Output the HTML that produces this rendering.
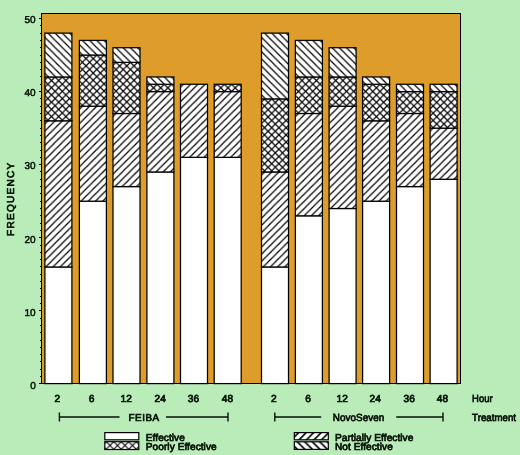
<!DOCTYPE html>
<html><head><meta charset="utf-8"><title>Frequency by Hour and Treatment</title>
<style>
html,body{margin:0;padding:0;background:#b9ecb9;}
body{width:520px;height:455px;overflow:hidden;}
svg{display:block;will-change:transform;}
text{text-rendering:geometricPrecision;font-family:"Liberation Sans",sans-serif;font-size:10.1px;fill:#061206;stroke:#061206;stroke-width:0.7px;letter-spacing:0.06px;}
</style></head><body>
<svg width="520" height="455" viewBox="0 0 520 455">
<defs>
<pattern id="l_xp" patternUnits="userSpaceOnUse" width="7.5" height="7.5" x="0.50" y="0"><path d="M-1,8.5 L8.5,-1 M-1,1 L1,-1 M6.5,8.5 L8.5,6.5" stroke="#000" stroke-width="1.15" fill="none"/></pattern>
<pattern id="l_xn" patternUnits="userSpaceOnUse" width="7.5" height="7.5" x="2.00" y="0"><path d="M-1,-1 L8.5,8.5 M6.5,-1 L8.5,1 M-1,6.5 L1,8.5" stroke="#000" stroke-width="1.15" fill="none"/></pattern>
<pattern id="l_p" patternUnits="userSpaceOnUse" width="7.5" height="7.5" x="3.80" y="0"><path d="M-1,8.5 L8.5,-1 M-1,1 L1,-1 M6.5,8.5 L8.5,6.5" stroke="#000" stroke-width="1.6" fill="none"/></pattern>
<pattern id="l_n" patternUnits="userSpaceOnUse" width="7.5" height="7.5" x="5.50" y="0"><path d="M-1,-1 L8.5,8.5 M6.5,-1 L8.5,1 M-1,6.5 L1,8.5" stroke="#000" stroke-width="1.6" fill="none"/></pattern>
<pattern id="p0" patternUnits="userSpaceOnUse" width="7.2" height="7.2" x="3.11" y="0"><path d="M-1,8.2 L8.2,-1 M-1,1 L1,-1 M6.2,8.2 L8.2,6.2" stroke="#000" stroke-width="1.25" fill="none"/></pattern>
<pattern id="p1" patternUnits="userSpaceOnUse" width="7.2" height="7.2" x="2.46" y="0"><path d="M-1,8.2 L8.2,-1 M-1,1 L1,-1 M6.2,8.2 L8.2,6.2" stroke="#000" stroke-width="1.25" fill="none"/></pattern>
<pattern id="p2" patternUnits="userSpaceOnUse" width="7.2" height="7.2" x="6.94" y="0"><path d="M-1,-1 L8.2,8.2 M6.2,-1 L8.2,1 M-1,6.2 L1,8.2" stroke="#000" stroke-width="1.25" fill="none"/></pattern>
<pattern id="p3" patternUnits="userSpaceOnUse" width="7.2" height="7.2" x="0.38" y="0"><path d="M-1,-1 L8.2,8.2 M6.2,-1 L8.2,1 M-1,6.2 L1,8.2" stroke="#000" stroke-width="1.25" fill="none"/></pattern>
<pattern id="p4" patternUnits="userSpaceOnUse" width="7.2" height="7.2" x="1.40" y="0"><path d="M-1,8.2 L8.2,-1 M-1,1 L1,-1 M6.2,8.2 L8.2,6.2" stroke="#000" stroke-width="1.25" fill="none"/></pattern>
<pattern id="p5" patternUnits="userSpaceOnUse" width="7.2" height="7.2" x="0.64" y="0"><path d="M-1,8.2 L8.2,-1 M-1,1 L1,-1 M6.2,8.2 L8.2,6.2" stroke="#000" stroke-width="1.25" fill="none"/></pattern>
<pattern id="p6" patternUnits="userSpaceOnUse" width="7.2" height="7.2" x="5.76" y="0"><path d="M-1,-1 L8.2,8.2 M6.2,-1 L8.2,1 M-1,6.2 L1,8.2" stroke="#000" stroke-width="1.25" fill="none"/></pattern>
<pattern id="p7" patternUnits="userSpaceOnUse" width="7.2" height="7.2" x="5.98" y="0"><path d="M-1,-1 L8.2,8.2 M6.2,-1 L8.2,1 M-1,6.2 L1,8.2" stroke="#000" stroke-width="1.25" fill="none"/></pattern>
<pattern id="p8" patternUnits="userSpaceOnUse" width="7.2" height="7.2" x="6.30" y="0"><path d="M-1,8.2 L8.2,-1 M-1,1 L1,-1 M6.2,8.2 L8.2,6.2" stroke="#000" stroke-width="1.25" fill="none"/></pattern>
<pattern id="p9" patternUnits="userSpaceOnUse" width="7.2" height="7.2" x="5.55" y="0"><path d="M-1,8.2 L8.2,-1 M-1,1 L1,-1 M6.2,8.2 L8.2,6.2" stroke="#000" stroke-width="1.25" fill="none"/></pattern>
<pattern id="p10" patternUnits="userSpaceOnUse" width="7.2" height="7.2" x="3.25" y="0"><path d="M-1,-1 L8.2,8.2 M6.2,-1 L8.2,1 M-1,6.2 L1,8.2" stroke="#000" stroke-width="1.25" fill="none"/></pattern>
<pattern id="p11" patternUnits="userSpaceOnUse" width="7.2" height="7.2" x="3.47" y="0"><path d="M-1,-1 L8.2,8.2 M6.2,-1 L8.2,1 M-1,6.2 L1,8.2" stroke="#000" stroke-width="1.25" fill="none"/></pattern>
<pattern id="p12" patternUnits="userSpaceOnUse" width="7.2" height="7.2" x="3.88" y="0"><path d="M-1,8.2 L8.2,-1 M-1,1 L1,-1 M6.2,8.2 L8.2,6.2" stroke="#000" stroke-width="1.25" fill="none"/></pattern>
<pattern id="p13" patternUnits="userSpaceOnUse" width="7.2" height="7.2" x="3.77" y="0"><path d="M-1,8.2 L8.2,-1 M-1,1 L1,-1 M6.2,8.2 L8.2,6.2" stroke="#000" stroke-width="1.25" fill="none"/></pattern>
<pattern id="p14" patternUnits="userSpaceOnUse" width="7.2" height="7.2" x="0.83" y="0"><path d="M-1,-1 L8.2,8.2 M6.2,-1 L8.2,1 M-1,6.2 L1,8.2" stroke="#000" stroke-width="1.25" fill="none"/></pattern>
<pattern id="p15" patternUnits="userSpaceOnUse" width="7.2" height="7.2" x="0.94" y="0"><path d="M-1,-1 L8.2,8.2 M6.2,-1 L8.2,1 M-1,6.2 L1,8.2" stroke="#000" stroke-width="1.25" fill="none"/></pattern>
<pattern id="p16" patternUnits="userSpaceOnUse" width="7.2" height="7.2" x="1.37" y="0"><path d="M-1,8.2 L8.2,-1 M-1,1 L1,-1 M6.2,8.2 L8.2,6.2" stroke="#000" stroke-width="1.25" fill="none"/></pattern>
<pattern id="p17" patternUnits="userSpaceOnUse" width="7.2" height="7.2" x="6.38" y="0"><path d="M-1,8.2 L8.2,-1 M-1,1 L1,-1 M6.2,8.2 L8.2,6.2" stroke="#000" stroke-width="1.25" fill="none"/></pattern>
<pattern id="p18" patternUnits="userSpaceOnUse" width="7.2" height="7.2" x="6.27" y="0"><path d="M-1,8.2 L8.2,-1 M-1,1 L1,-1 M6.2,8.2 L8.2,6.2" stroke="#000" stroke-width="1.25" fill="none"/></pattern>
<pattern id="p19" patternUnits="userSpaceOnUse" width="7.2" height="7.2" x="3.33" y="0"><path d="M-1,-1 L8.2,8.2 M6.2,-1 L8.2,1 M-1,6.2 L1,8.2" stroke="#000" stroke-width="1.25" fill="none"/></pattern>
<pattern id="p20" patternUnits="userSpaceOnUse" width="7.2" height="7.2" x="4.47" y="0"><path d="M-1,8.2 L8.2,-1 M-1,1 L1,-1 M6.2,8.2 L8.2,6.2" stroke="#000" stroke-width="1.25" fill="none"/></pattern>
<pattern id="p21" patternUnits="userSpaceOnUse" width="7.2" height="7.2" x="3.39" y="0"><path d="M-1,8.2 L8.2,-1 M-1,1 L1,-1 M6.2,8.2 L8.2,6.2" stroke="#000" stroke-width="1.25" fill="none"/></pattern>
<pattern id="p22" patternUnits="userSpaceOnUse" width="7.2" height="7.2" x="0.01" y="0"><path d="M-1,-1 L8.2,8.2 M6.2,-1 L8.2,1 M-1,6.2 L1,8.2" stroke="#000" stroke-width="1.25" fill="none"/></pattern>
<pattern id="p23" patternUnits="userSpaceOnUse" width="7.2" height="7.2" x="0.98" y="0"><path d="M-1,-1 L8.2,8.2 M6.2,-1 L8.2,1 M-1,6.2 L1,8.2" stroke="#000" stroke-width="1.25" fill="none"/></pattern>
<pattern id="p24" patternUnits="userSpaceOnUse" width="7.2" height="7.2" x="1.50" y="0"><path d="M-1,8.2 L8.2,-1 M-1,1 L1,-1 M6.2,8.2 L8.2,6.2" stroke="#000" stroke-width="1.25" fill="none"/></pattern>
<pattern id="p25" patternUnits="userSpaceOnUse" width="7.2" height="7.2" x="0.96" y="0"><path d="M-1,8.2 L8.2,-1 M-1,1 L1,-1 M6.2,8.2 L8.2,6.2" stroke="#000" stroke-width="1.25" fill="none"/></pattern>
<pattern id="p26" patternUnits="userSpaceOnUse" width="7.2" height="7.2" x="5.44" y="0"><path d="M-1,-1 L8.2,8.2 M6.2,-1 L8.2,1 M-1,6.2 L1,8.2" stroke="#000" stroke-width="1.25" fill="none"/></pattern>
<pattern id="p27" patternUnits="userSpaceOnUse" width="7.2" height="7.2" x="5.98" y="0"><path d="M-1,-1 L8.2,8.2 M6.2,-1 L8.2,1 M-1,6.2 L1,8.2" stroke="#000" stroke-width="1.25" fill="none"/></pattern>
<pattern id="p28" patternUnits="userSpaceOnUse" width="7.2" height="7.2" x="6.30" y="0"><path d="M-1,8.2 L8.2,-1 M-1,1 L1,-1 M6.2,8.2 L8.2,6.2" stroke="#000" stroke-width="1.25" fill="none"/></pattern>
<pattern id="p29" patternUnits="userSpaceOnUse" width="7.2" height="7.2" x="5.86" y="0"><path d="M-1,8.2 L8.2,-1 M-1,1 L1,-1 M6.2,8.2 L8.2,6.2" stroke="#000" stroke-width="1.25" fill="none"/></pattern>
<pattern id="p30" patternUnits="userSpaceOnUse" width="7.2" height="7.2" x="3.14" y="0"><path d="M-1,-1 L8.2,8.2 M6.2,-1 L8.2,1 M-1,6.2 L1,8.2" stroke="#000" stroke-width="1.25" fill="none"/></pattern>
<pattern id="p31" patternUnits="userSpaceOnUse" width="7.2" height="7.2" x="3.57" y="0"><path d="M-1,-1 L8.2,8.2 M6.2,-1 L8.2,1 M-1,6.2 L1,8.2" stroke="#000" stroke-width="1.25" fill="none"/></pattern>
<pattern id="p32" patternUnits="userSpaceOnUse" width="7.2" height="7.2" x="4.01" y="0"><path d="M-1,8.2 L8.2,-1 M-1,1 L1,-1 M6.2,8.2 L8.2,6.2" stroke="#000" stroke-width="1.25" fill="none"/></pattern>
<pattern id="p33" patternUnits="userSpaceOnUse" width="7.2" height="7.2" x="3.47" y="0"><path d="M-1,8.2 L8.2,-1 M-1,1 L1,-1 M6.2,8.2 L8.2,6.2" stroke="#000" stroke-width="1.25" fill="none"/></pattern>
<pattern id="p34" patternUnits="userSpaceOnUse" width="7.2" height="7.2" x="0.53" y="0"><path d="M-1,-1 L8.2,8.2 M6.2,-1 L8.2,1 M-1,6.2 L1,8.2" stroke="#000" stroke-width="1.25" fill="none"/></pattern>
<pattern id="p35" patternUnits="userSpaceOnUse" width="7.2" height="7.2" x="0.64" y="0"><path d="M-1,-1 L8.2,8.2 M6.2,-1 L8.2,1 M-1,6.2 L1,8.2" stroke="#000" stroke-width="1.25" fill="none"/></pattern>
<pattern id="p36" patternUnits="userSpaceOnUse" width="7.2" height="7.2" x="1.80" y="0"><path d="M-1,8.2 L8.2,-1 M-1,1 L1,-1 M6.2,8.2 L8.2,6.2" stroke="#000" stroke-width="1.25" fill="none"/></pattern>
<pattern id="p37" patternUnits="userSpaceOnUse" width="7.2" height="7.2" x="1.48" y="0"><path d="M-1,8.2 L8.2,-1 M-1,1 L1,-1 M6.2,8.2 L8.2,6.2" stroke="#000" stroke-width="1.25" fill="none"/></pattern>
<pattern id="p38" patternUnits="userSpaceOnUse" width="7.2" height="7.2" x="5.52" y="0"><path d="M-1,-1 L8.2,8.2 M6.2,-1 L8.2,1 M-1,6.2 L1,8.2" stroke="#000" stroke-width="1.25" fill="none"/></pattern>
<pattern id="p39" patternUnits="userSpaceOnUse" width="7.2" height="7.2" x="5.63" y="0"><path d="M-1,-1 L8.2,8.2 M6.2,-1 L8.2,1 M-1,6.2 L1,8.2" stroke="#000" stroke-width="1.25" fill="none"/></pattern>
<pattern id="p40" patternUnits="userSpaceOnUse" width="7.2" height="7.2" x="6.82" y="0"><path d="M-1,8.2 L8.2,-1 M-1,1 L1,-1 M6.2,8.2 L8.2,6.2" stroke="#000" stroke-width="1.25" fill="none"/></pattern>
<pattern id="p41" patternUnits="userSpaceOnUse" width="7.2" height="7.2" x="6.28" y="0"><path d="M-1,8.2 L8.2,-1 M-1,1 L1,-1 M6.2,8.2 L8.2,6.2" stroke="#000" stroke-width="1.25" fill="none"/></pattern>
<pattern id="p42" patternUnits="userSpaceOnUse" width="7.2" height="7.2" x="3.12" y="0"><path d="M-1,-1 L8.2,8.2 M6.2,-1 L8.2,1 M-1,6.2 L1,8.2" stroke="#000" stroke-width="1.25" fill="none"/></pattern>
<pattern id="p43" patternUnits="userSpaceOnUse" width="7.2" height="7.2" x="3.23" y="0"><path d="M-1,-1 L8.2,8.2 M6.2,-1 L8.2,1 M-1,6.2 L1,8.2" stroke="#000" stroke-width="1.25" fill="none"/></pattern>
</defs>
<rect x="0" y="0" width="520" height="455" fill="#b9ecb9"/>
<rect x="41.5" y="13.6" width="419.3" height="370.0" fill="#de9c2a" stroke="#000" stroke-width="1" shape-rendering="crispEdges"/>

<line x1="39" x2="41" y1="383.5" y2="383.5" stroke="#000" stroke-width="1" shape-rendering="crispEdges"/>
<text x="35.7" y="389.20" text-anchor="end" style="font-size:10px;letter-spacing:0;stroke-width:0.5px">0</text>
<line x1="40" x2="41" y1="376.5" y2="376.5" stroke="#000" stroke-width="1" shape-rendering="crispEdges"/>
<line x1="40" x2="41" y1="369.5" y2="369.5" stroke="#000" stroke-width="1" shape-rendering="crispEdges"/>
<line x1="40" x2="41" y1="361.5" y2="361.5" stroke="#000" stroke-width="1" shape-rendering="crispEdges"/>
<line x1="40" x2="41" y1="354.5" y2="354.5" stroke="#000" stroke-width="1" shape-rendering="crispEdges"/>
<line x1="40" x2="41" y1="347.5" y2="347.5" stroke="#000" stroke-width="1" shape-rendering="crispEdges"/>
<line x1="40" x2="41" y1="340.5" y2="340.5" stroke="#000" stroke-width="1" shape-rendering="crispEdges"/>
<line x1="40" x2="41" y1="332.5" y2="332.5" stroke="#000" stroke-width="1" shape-rendering="crispEdges"/>
<line x1="40" x2="41" y1="325.5" y2="325.5" stroke="#000" stroke-width="1" shape-rendering="crispEdges"/>
<line x1="40" x2="41" y1="318.5" y2="318.5" stroke="#000" stroke-width="1" shape-rendering="crispEdges"/>
<line x1="39" x2="41" y1="310.5" y2="310.5" stroke="#000" stroke-width="1" shape-rendering="crispEdges"/>
<text x="35.7" y="315.86" text-anchor="end" style="font-size:10px;letter-spacing:0;stroke-width:0.5px">10</text>
<line x1="40" x2="41" y1="303.5" y2="303.5" stroke="#000" stroke-width="1" shape-rendering="crispEdges"/>
<line x1="40" x2="41" y1="296.5" y2="296.5" stroke="#000" stroke-width="1" shape-rendering="crispEdges"/>
<line x1="40" x2="41" y1="288.5" y2="288.5" stroke="#000" stroke-width="1" shape-rendering="crispEdges"/>
<line x1="40" x2="41" y1="281.5" y2="281.5" stroke="#000" stroke-width="1" shape-rendering="crispEdges"/>
<line x1="40" x2="41" y1="274.5" y2="274.5" stroke="#000" stroke-width="1" shape-rendering="crispEdges"/>
<line x1="40" x2="41" y1="266.5" y2="266.5" stroke="#000" stroke-width="1" shape-rendering="crispEdges"/>
<line x1="40" x2="41" y1="259.5" y2="259.5" stroke="#000" stroke-width="1" shape-rendering="crispEdges"/>
<line x1="40" x2="41" y1="252.5" y2="252.5" stroke="#000" stroke-width="1" shape-rendering="crispEdges"/>
<line x1="40" x2="41" y1="245.5" y2="245.5" stroke="#000" stroke-width="1" shape-rendering="crispEdges"/>
<line x1="39" x2="41" y1="237.5" y2="237.5" stroke="#000" stroke-width="1" shape-rendering="crispEdges"/>
<text x="35.7" y="242.52" text-anchor="end" style="font-size:10px;letter-spacing:0;stroke-width:0.5px">20</text>
<line x1="40" x2="41" y1="230.5" y2="230.5" stroke="#000" stroke-width="1" shape-rendering="crispEdges"/>
<line x1="40" x2="41" y1="223.5" y2="223.5" stroke="#000" stroke-width="1" shape-rendering="crispEdges"/>
<line x1="40" x2="41" y1="215.5" y2="215.5" stroke="#000" stroke-width="1" shape-rendering="crispEdges"/>
<line x1="40" x2="41" y1="208.5" y2="208.5" stroke="#000" stroke-width="1" shape-rendering="crispEdges"/>
<line x1="40" x2="41" y1="201.5" y2="201.5" stroke="#000" stroke-width="1" shape-rendering="crispEdges"/>
<line x1="40" x2="41" y1="193.5" y2="193.5" stroke="#000" stroke-width="1" shape-rendering="crispEdges"/>
<line x1="40" x2="41" y1="186.5" y2="186.5" stroke="#000" stroke-width="1" shape-rendering="crispEdges"/>
<line x1="40" x2="41" y1="179.5" y2="179.5" stroke="#000" stroke-width="1" shape-rendering="crispEdges"/>
<line x1="40" x2="41" y1="171.5" y2="171.5" stroke="#000" stroke-width="1" shape-rendering="crispEdges"/>
<line x1="39" x2="41" y1="164.5" y2="164.5" stroke="#000" stroke-width="1" shape-rendering="crispEdges"/>
<text x="35.7" y="169.18" text-anchor="end" style="font-size:10px;letter-spacing:0;stroke-width:0.5px">30</text>
<line x1="40" x2="41" y1="157.5" y2="157.5" stroke="#000" stroke-width="1" shape-rendering="crispEdges"/>
<line x1="40" x2="41" y1="150.5" y2="150.5" stroke="#000" stroke-width="1" shape-rendering="crispEdges"/>
<line x1="40" x2="41" y1="142.5" y2="142.5" stroke="#000" stroke-width="1" shape-rendering="crispEdges"/>
<line x1="40" x2="41" y1="135.5" y2="135.5" stroke="#000" stroke-width="1" shape-rendering="crispEdges"/>
<line x1="40" x2="41" y1="128.5" y2="128.5" stroke="#000" stroke-width="1" shape-rendering="crispEdges"/>
<line x1="40" x2="41" y1="120.5" y2="120.5" stroke="#000" stroke-width="1" shape-rendering="crispEdges"/>
<line x1="40" x2="41" y1="113.5" y2="113.5" stroke="#000" stroke-width="1" shape-rendering="crispEdges"/>
<line x1="40" x2="41" y1="106.5" y2="106.5" stroke="#000" stroke-width="1" shape-rendering="crispEdges"/>
<line x1="40" x2="41" y1="98.5" y2="98.5" stroke="#000" stroke-width="1" shape-rendering="crispEdges"/>
<line x1="39" x2="41" y1="91.5" y2="91.5" stroke="#000" stroke-width="1" shape-rendering="crispEdges"/>
<text x="35.7" y="95.84" text-anchor="end" style="font-size:10px;letter-spacing:0;stroke-width:0.5px">40</text>
<line x1="40" x2="41" y1="84.5" y2="84.5" stroke="#000" stroke-width="1" shape-rendering="crispEdges"/>
<line x1="40" x2="41" y1="76.5" y2="76.5" stroke="#000" stroke-width="1" shape-rendering="crispEdges"/>
<line x1="40" x2="41" y1="69.5" y2="69.5" stroke="#000" stroke-width="1" shape-rendering="crispEdges"/>
<line x1="40" x2="41" y1="62.5" y2="62.5" stroke="#000" stroke-width="1" shape-rendering="crispEdges"/>
<line x1="40" x2="41" y1="55.5" y2="55.5" stroke="#000" stroke-width="1" shape-rendering="crispEdges"/>
<line x1="40" x2="41" y1="47.5" y2="47.5" stroke="#000" stroke-width="1" shape-rendering="crispEdges"/>
<line x1="40" x2="41" y1="40.5" y2="40.5" stroke="#000" stroke-width="1" shape-rendering="crispEdges"/>
<line x1="40" x2="41" y1="33.5" y2="33.5" stroke="#000" stroke-width="1" shape-rendering="crispEdges"/>
<line x1="40" x2="41" y1="25.5" y2="25.5" stroke="#000" stroke-width="1" shape-rendering="crispEdges"/>
<line x1="39" x2="41" y1="18.5" y2="18.5" stroke="#000" stroke-width="1" shape-rendering="crispEdges"/>
<text x="35.7" y="22.50" text-anchor="end" style="font-size:10px;letter-spacing:0;stroke-width:0.5px">50</text>
<text transform="translate(13.7,235.9) rotate(-90)" style="font-size:10px;letter-spacing:0" textLength="73.2" lengthAdjust="spacing">FREQUENCY</text>
<rect x="44.90" y="266.97" width="27" height="116.63" fill="#fff"/>
<rect x="44.90" y="266.97" width="27" height="116.63" fill="none" stroke="#000" stroke-width="1.25"/>
<rect x="44.90" y="120.81" width="27" height="146.16" fill="#fff"/>
<rect x="44.90" y="120.81" width="27" height="146.16" fill="url(#p0)"/>
<rect x="44.90" y="120.81" width="27" height="146.16" fill="none" stroke="#000" stroke-width="1.25"/>
<rect x="44.90" y="76.96" width="27" height="43.85" fill="#fff"/>
<rect x="44.90" y="76.96" width="27" height="43.85" fill="url(#p1)"/>
<rect x="44.90" y="76.96" width="27" height="43.85" fill="url(#p2)"/>
<rect x="44.90" y="76.96" width="27" height="43.85" fill="none" stroke="#000" stroke-width="1.25"/>
<rect x="44.90" y="33.12" width="27" height="43.85" fill="#fff"/>
<rect x="44.90" y="33.12" width="27" height="43.85" fill="url(#p3)"/>
<rect x="44.90" y="33.12" width="27" height="43.85" fill="none" stroke="#000" stroke-width="1.25"/>
<rect x="79.40" y="201.20" width="27" height="182.40" fill="#fff"/>
<rect x="79.40" y="201.20" width="27" height="182.40" fill="none" stroke="#000" stroke-width="1.25"/>
<rect x="79.40" y="106.20" width="27" height="95.00" fill="#fff"/>
<rect x="79.40" y="106.20" width="27" height="95.00" fill="url(#p4)"/>
<rect x="79.40" y="106.20" width="27" height="95.00" fill="none" stroke="#000" stroke-width="1.25"/>
<rect x="79.40" y="55.04" width="27" height="51.16" fill="#fff"/>
<rect x="79.40" y="55.04" width="27" height="51.16" fill="url(#p5)"/>
<rect x="79.40" y="55.04" width="27" height="51.16" fill="url(#p6)"/>
<rect x="79.40" y="55.04" width="27" height="51.16" fill="none" stroke="#000" stroke-width="1.25"/>
<rect x="79.40" y="40.42" width="27" height="14.62" fill="#fff"/>
<rect x="79.40" y="40.42" width="27" height="14.62" fill="url(#p7)"/>
<rect x="79.40" y="40.42" width="27" height="14.62" fill="none" stroke="#000" stroke-width="1.25"/>
<rect x="113.00" y="186.58" width="27" height="197.02" fill="#fff"/>
<rect x="113.00" y="186.58" width="27" height="197.02" fill="none" stroke="#000" stroke-width="1.25"/>
<rect x="113.00" y="113.50" width="27" height="73.08" fill="#fff"/>
<rect x="113.00" y="113.50" width="27" height="73.08" fill="url(#p8)"/>
<rect x="113.00" y="113.50" width="27" height="73.08" fill="none" stroke="#000" stroke-width="1.25"/>
<rect x="113.00" y="62.35" width="27" height="51.16" fill="#fff"/>
<rect x="113.00" y="62.35" width="27" height="51.16" fill="url(#p9)"/>
<rect x="113.00" y="62.35" width="27" height="51.16" fill="url(#p10)"/>
<rect x="113.00" y="62.35" width="27" height="51.16" fill="none" stroke="#000" stroke-width="1.25"/>
<rect x="113.00" y="47.73" width="27" height="14.62" fill="#fff"/>
<rect x="113.00" y="47.73" width="27" height="14.62" fill="url(#p11)"/>
<rect x="113.00" y="47.73" width="27" height="14.62" fill="none" stroke="#000" stroke-width="1.25"/>
<rect x="146.90" y="171.97" width="27" height="211.63" fill="#fff"/>
<rect x="146.90" y="171.97" width="27" height="211.63" fill="none" stroke="#000" stroke-width="1.25"/>
<rect x="146.90" y="91.58" width="27" height="80.39" fill="#fff"/>
<rect x="146.90" y="91.58" width="27" height="80.39" fill="url(#p12)"/>
<rect x="146.90" y="91.58" width="27" height="80.39" fill="none" stroke="#000" stroke-width="1.25"/>
<rect x="146.90" y="84.27" width="27" height="7.31" fill="#fff"/>
<rect x="146.90" y="84.27" width="27" height="7.31" fill="url(#p13)"/>
<rect x="146.90" y="84.27" width="27" height="7.31" fill="url(#p14)"/>
<rect x="146.90" y="84.27" width="27" height="7.31" fill="none" stroke="#000" stroke-width="1.25"/>
<rect x="146.90" y="76.96" width="27" height="7.31" fill="#fff"/>
<rect x="146.90" y="76.96" width="27" height="7.31" fill="url(#p15)"/>
<rect x="146.90" y="76.96" width="27" height="7.31" fill="none" stroke="#000" stroke-width="1.25"/>
<rect x="180.50" y="157.35" width="27" height="226.25" fill="#fff"/>
<rect x="180.50" y="157.35" width="27" height="226.25" fill="none" stroke="#000" stroke-width="1.25"/>
<rect x="180.50" y="84.27" width="27" height="73.08" fill="#fff"/>
<rect x="180.50" y="84.27" width="27" height="73.08" fill="url(#p16)"/>
<rect x="180.50" y="84.27" width="27" height="73.08" fill="none" stroke="#000" stroke-width="1.25"/>
<rect x="214.20" y="157.35" width="27" height="226.25" fill="#fff"/>
<rect x="214.20" y="157.35" width="27" height="226.25" fill="none" stroke="#000" stroke-width="1.25"/>
<rect x="214.20" y="91.58" width="27" height="65.77" fill="#fff"/>
<rect x="214.20" y="91.58" width="27" height="65.77" fill="url(#p17)"/>
<rect x="214.20" y="91.58" width="27" height="65.77" fill="none" stroke="#000" stroke-width="1.25"/>
<rect x="214.20" y="84.27" width="27" height="7.31" fill="#fff"/>
<rect x="214.20" y="84.27" width="27" height="7.31" fill="url(#p18)"/>
<rect x="214.20" y="84.27" width="27" height="7.31" fill="url(#p19)"/>
<rect x="214.20" y="84.27" width="27" height="7.31" fill="none" stroke="#000" stroke-width="1.25"/>
<rect x="261.50" y="266.97" width="27" height="116.63" fill="#fff"/>
<rect x="261.50" y="266.97" width="27" height="116.63" fill="none" stroke="#000" stroke-width="1.25"/>
<rect x="261.50" y="171.97" width="27" height="95.00" fill="#fff"/>
<rect x="261.50" y="171.97" width="27" height="95.00" fill="url(#p20)"/>
<rect x="261.50" y="171.97" width="27" height="95.00" fill="none" stroke="#000" stroke-width="1.25"/>
<rect x="261.50" y="98.89" width="27" height="73.08" fill="#fff"/>
<rect x="261.50" y="98.89" width="27" height="73.08" fill="url(#p21)"/>
<rect x="261.50" y="98.89" width="27" height="73.08" fill="url(#p22)"/>
<rect x="261.50" y="98.89" width="27" height="73.08" fill="none" stroke="#000" stroke-width="1.25"/>
<rect x="261.50" y="33.12" width="27" height="65.77" fill="#fff"/>
<rect x="261.50" y="33.12" width="27" height="65.77" fill="url(#p23)"/>
<rect x="261.50" y="33.12" width="27" height="65.77" fill="none" stroke="#000" stroke-width="1.25"/>
<rect x="295.40" y="215.82" width="27" height="167.78" fill="#fff"/>
<rect x="295.40" y="215.82" width="27" height="167.78" fill="none" stroke="#000" stroke-width="1.25"/>
<rect x="295.40" y="113.50" width="27" height="102.31" fill="#fff"/>
<rect x="295.40" y="113.50" width="27" height="102.31" fill="url(#p24)"/>
<rect x="295.40" y="113.50" width="27" height="102.31" fill="none" stroke="#000" stroke-width="1.25"/>
<rect x="295.40" y="76.96" width="27" height="36.54" fill="#fff"/>
<rect x="295.40" y="76.96" width="27" height="36.54" fill="url(#p25)"/>
<rect x="295.40" y="76.96" width="27" height="36.54" fill="url(#p26)"/>
<rect x="295.40" y="76.96" width="27" height="36.54" fill="none" stroke="#000" stroke-width="1.25"/>
<rect x="295.40" y="40.42" width="27" height="36.54" fill="#fff"/>
<rect x="295.40" y="40.42" width="27" height="36.54" fill="url(#p27)"/>
<rect x="295.40" y="40.42" width="27" height="36.54" fill="none" stroke="#000" stroke-width="1.25"/>
<rect x="329.10" y="208.51" width="27" height="175.09" fill="#fff"/>
<rect x="329.10" y="208.51" width="27" height="175.09" fill="none" stroke="#000" stroke-width="1.25"/>
<rect x="329.10" y="106.20" width="27" height="102.31" fill="#fff"/>
<rect x="329.10" y="106.20" width="27" height="102.31" fill="url(#p28)"/>
<rect x="329.10" y="106.20" width="27" height="102.31" fill="none" stroke="#000" stroke-width="1.25"/>
<rect x="329.10" y="76.96" width="27" height="29.23" fill="#fff"/>
<rect x="329.10" y="76.96" width="27" height="29.23" fill="url(#p29)"/>
<rect x="329.10" y="76.96" width="27" height="29.23" fill="url(#p30)"/>
<rect x="329.10" y="76.96" width="27" height="29.23" fill="none" stroke="#000" stroke-width="1.25"/>
<rect x="329.10" y="47.73" width="27" height="29.23" fill="#fff"/>
<rect x="329.10" y="47.73" width="27" height="29.23" fill="url(#p31)"/>
<rect x="329.10" y="47.73" width="27" height="29.23" fill="none" stroke="#000" stroke-width="1.25"/>
<rect x="362.60" y="201.20" width="27" height="182.40" fill="#fff"/>
<rect x="362.60" y="201.20" width="27" height="182.40" fill="none" stroke="#000" stroke-width="1.25"/>
<rect x="362.60" y="120.81" width="27" height="80.39" fill="#fff"/>
<rect x="362.60" y="120.81" width="27" height="80.39" fill="url(#p32)"/>
<rect x="362.60" y="120.81" width="27" height="80.39" fill="none" stroke="#000" stroke-width="1.25"/>
<rect x="362.60" y="84.27" width="27" height="36.54" fill="#fff"/>
<rect x="362.60" y="84.27" width="27" height="36.54" fill="url(#p33)"/>
<rect x="362.60" y="84.27" width="27" height="36.54" fill="url(#p34)"/>
<rect x="362.60" y="84.27" width="27" height="36.54" fill="none" stroke="#000" stroke-width="1.25"/>
<rect x="362.60" y="76.96" width="27" height="7.31" fill="#fff"/>
<rect x="362.60" y="76.96" width="27" height="7.31" fill="url(#p35)"/>
<rect x="362.60" y="76.96" width="27" height="7.31" fill="none" stroke="#000" stroke-width="1.25"/>
<rect x="396.50" y="186.58" width="27" height="197.02" fill="#fff"/>
<rect x="396.50" y="186.58" width="27" height="197.02" fill="none" stroke="#000" stroke-width="1.25"/>
<rect x="396.50" y="113.50" width="27" height="73.08" fill="#fff"/>
<rect x="396.50" y="113.50" width="27" height="73.08" fill="url(#p36)"/>
<rect x="396.50" y="113.50" width="27" height="73.08" fill="none" stroke="#000" stroke-width="1.25"/>
<rect x="396.50" y="91.58" width="27" height="21.92" fill="#fff"/>
<rect x="396.50" y="91.58" width="27" height="21.92" fill="url(#p37)"/>
<rect x="396.50" y="91.58" width="27" height="21.92" fill="url(#p38)"/>
<rect x="396.50" y="91.58" width="27" height="21.92" fill="none" stroke="#000" stroke-width="1.25"/>
<rect x="396.50" y="84.27" width="27" height="7.31" fill="#fff"/>
<rect x="396.50" y="84.27" width="27" height="7.31" fill="url(#p39)"/>
<rect x="396.50" y="84.27" width="27" height="7.31" fill="none" stroke="#000" stroke-width="1.25"/>
<rect x="430.10" y="179.28" width="27" height="204.32" fill="#fff"/>
<rect x="430.10" y="179.28" width="27" height="204.32" fill="none" stroke="#000" stroke-width="1.25"/>
<rect x="430.10" y="128.12" width="27" height="51.16" fill="#fff"/>
<rect x="430.10" y="128.12" width="27" height="51.16" fill="url(#p40)"/>
<rect x="430.10" y="128.12" width="27" height="51.16" fill="none" stroke="#000" stroke-width="1.25"/>
<rect x="430.10" y="91.58" width="27" height="36.54" fill="#fff"/>
<rect x="430.10" y="91.58" width="27" height="36.54" fill="url(#p41)"/>
<rect x="430.10" y="91.58" width="27" height="36.54" fill="url(#p42)"/>
<rect x="430.10" y="91.58" width="27" height="36.54" fill="none" stroke="#000" stroke-width="1.25"/>
<rect x="430.10" y="84.27" width="27" height="7.31" fill="#fff"/>
<rect x="430.10" y="84.27" width="27" height="7.31" fill="url(#p43)"/>
<rect x="430.10" y="84.27" width="27" height="7.31" fill="none" stroke="#000" stroke-width="1.25"/>
<text x="57.40" y="402.30" style="font-size:10.2px" text-anchor="middle">2</text>
<text x="91.60" y="402.30" style="font-size:10.2px" text-anchor="middle">6</text>
<text x="126.20" y="402.30" style="font-size:10.2px" text-anchor="middle">12</text>
<text x="160.30" y="402.30" style="font-size:10.2px" text-anchor="middle">24</text>
<text x="193.60" y="402.30" style="font-size:10.2px" text-anchor="middle">36</text>
<text x="227.50" y="402.30" style="font-size:10.2px" text-anchor="middle">48</text>
<text x="273.80" y="402.30" style="font-size:10.2px" text-anchor="middle">2</text>
<text x="308.00" y="402.30" style="font-size:10.2px" text-anchor="middle">6</text>
<text x="342.20" y="402.30" style="font-size:10.2px" text-anchor="middle">12</text>
<text x="375.20" y="402.30" style="font-size:10.2px" text-anchor="middle">24</text>
<text x="409.30" y="402.30" style="font-size:10.2px" text-anchor="middle">36</text>
<text x="442.50" y="402.30" style="font-size:10.2px" text-anchor="middle">48</text>
<text x="472.10" y="402.30" style="font-size:10.3px" textLength="20.7" lengthAdjust="spacingAndGlyphs">Hour</text>
<text x="472.10" y="420.70" style="font-size:10.3px" textLength="44.0" lengthAdjust="spacingAndGlyphs">Treatment</text>
<path d="M59.4,412.5 V421.6 M228.0,412.5 V421.6 M59.4,417 H119.5 M166,417 H228.0" stroke="#061206" stroke-width="1.4" fill="none"/>
<text x="128.50" y="420.60" style="font-size:9.9px" textLength="30.7" lengthAdjust="spacing">FEIBA</text>
<path d="M274.8,412.5 V421.6 M443.0,412.5 V421.6 M274.8,417 H321.2 M396.2,417 H443.0" stroke="#061206" stroke-width="1.4" fill="none"/>
<text x="332.80" y="420.50" style="font-size:10.4px" textLength="51.6" lengthAdjust="spacingAndGlyphs">NovoSeven</text>
<rect x="104.8" y="432.6" width="34" height="7.2" fill="#fff"/>
<rect x="104.8" y="432.6" width="34" height="7.2" fill="none" stroke="#000" stroke-width="1.2"/>
<text x="145.8" y="441.1">Effective</text>
<rect x="104.8" y="441.7" width="34" height="7.8" fill="#fff"/>
<rect x="104.8" y="441.7" width="34" height="7.8" fill="url(#l_xp)"/>
<rect x="104.8" y="441.7" width="34" height="7.8" fill="url(#l_xn)"/>
<rect x="104.8" y="441.7" width="34" height="7.8" fill="none" stroke="#000" stroke-width="1.2"/>
<text x="145.8" y="449.6">Poorly Effective</text>
<rect x="294.3" y="432.6" width="34" height="7.2" fill="#fff"/>
<rect x="294.3" y="432.6" width="34" height="7.2" fill="url(#l_p)"/>
<rect x="294.3" y="432.6" width="34" height="7.2" fill="none" stroke="#000" stroke-width="1.2"/>
<text x="335" y="441.1">Partially Effective</text>
<rect x="294.3" y="441.8" width="34" height="7.6" fill="#fff"/>
<rect x="294.3" y="441.8" width="34" height="7.6" fill="url(#l_n)"/>
<rect x="294.3" y="441.8" width="34" height="7.6" fill="none" stroke="#000" stroke-width="1.2"/>
<text x="335" y="449.6">Not Effective</text>
</svg></body></html>
